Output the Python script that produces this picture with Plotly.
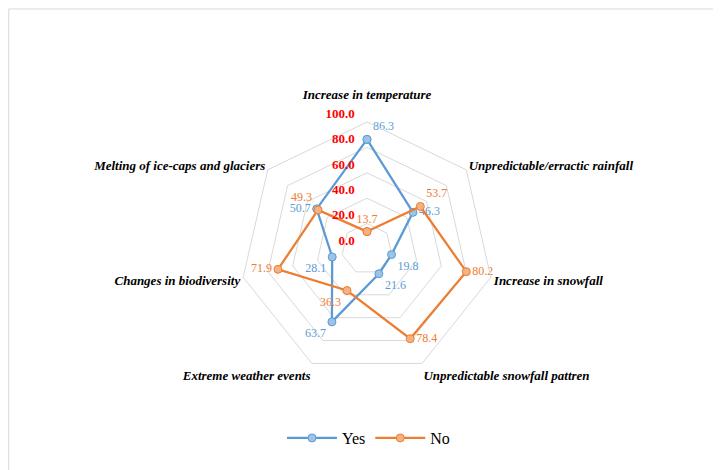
import plotly.graph_objects as go

categories = ["Increase in temperature", "Unpredictable/erractic rainfall", "Increase in snowfall",
              "Unpredictable snowfall pattren", "Extreme weather events", "Changes in biodiversity",
              "Melting of ice-caps and glaciers"]
yes_vals = [86.3, 46.3, 19.8, 21.6, 63.7, 28.1, 50.7]
no_vals = [13.7, 53.7, 80.2, 78.4, 36.3, 71.9, 49.3]
radial_ticks = [0, 20, 40, 60, 80, 100]

yes_pos = ["top right", "middle right", "bottom right", "bottom right", "bottom left", "bottom left", "middle left"]
no_pos = ["top center", "top right", "middle right", "middle right", "bottom left", "middle left", "top left"]

BLUE = "#5B9BD5"
ORANGE = "#ED7D31"
FONT = "Liberation Serif, Times New Roman, serif"

def closed(a):
    return list(a) + [a[0]]

# radial tick labels: invisible padding so the visible text sits just left of the axis
HID = "<span style='color:rgba(0,0,0,0)'>{}</span>"
radial_text = []
for v in radial_ticks:
    lab = f"{v:.1f}"
    radial_text.append(lab + HID.format("\u00a0\u00a0\u00a0") + "<br>" + HID.format(lab))

# top category label lifted with an empty second line so it clears the "100.0" tick label
cat_text = [categories[0] + "<br>\u00a0"] + categories[1:]

fig = go.Figure()
fig.add_trace(go.Scatterpolar(
    r=closed(yes_vals), theta=closed(categories), name="Yes",
    mode="lines+markers+text",
    text=[f"{v:.1f}" for v in yes_vals] + [""],
    textposition=closed(yes_pos),
    textfont=dict(family=FONT, size=12, color=BLUE),
    line=dict(color=BLUE, width=2.25),
    marker=dict(size=8, color="#9DC3E6", line=dict(color=BLUE, width=1)),
))
fig.add_trace(go.Scatterpolar(
    r=closed(no_vals), theta=closed(categories), name="No",
    mode="lines+markers+text",
    text=[f"{v:.1f}" for v in no_vals] + [""],
    textposition=closed(no_pos),
    textfont=dict(family=FONT, size=12, color=ORANGE),
    line=dict(color=ORANGE, width=2.25),
    marker=dict(size=8, color="#F4B183", line=dict(color=ORANGE, width=1)),
))

cx, cy, R = 359, 241, 127
W, H = 721, 470
fig.update_layout(
    width=W, height=H,
    margin=dict(l=0, r=0, t=0, b=0),
    paper_bgcolor="white",
    plot_bgcolor="white",
    font=dict(family=FONT, color="black"),
    polar=dict(
        domain=dict(x=[(cx - R) / W, (cx + R) / W], y=[(H - cy - R) / H, (H - cy + R) / H]),
        bgcolor="white",
        gridshape="linear",
        radialaxis=dict(
            range=[0, 100], tickvals=radial_ticks, ticktext=radial_text,
            angle=90, tickangle=90, side="counterclockwise",
            showline=False, ticks="",
            gridcolor="#D9D9D9", gridwidth=1,
            tickfont=dict(family=FONT, size=13, color="#FF0000", weight="bold"),
        ),
        angularaxis=dict(
            direction="clockwise", rotation=90,
            tickmode="array", tickvals=categories, ticktext=cat_text,
            showgrid=False, showline=True, linecolor="#D9D9D9", linewidth=1,
            ticks="",
            tickfont=dict(family=FONT, size=13, color="black", weight="bold", style="italic"),
        ),
    ),
    showlegend=True,
    legend=dict(orientation="h", x=0.5, xanchor="center", y=0.085, yanchor="middle",
                font=dict(family=FONT, size=16, color="black"), itemwidth=50),
    shapes=[dict(type="rect", xref="paper", yref="paper", x0=0.001, y0=0.002, x1=0.999, y1=0.998,
                 line=dict(color="#D9D9D9", width=1))],
)

fig.write_html("out.html")
